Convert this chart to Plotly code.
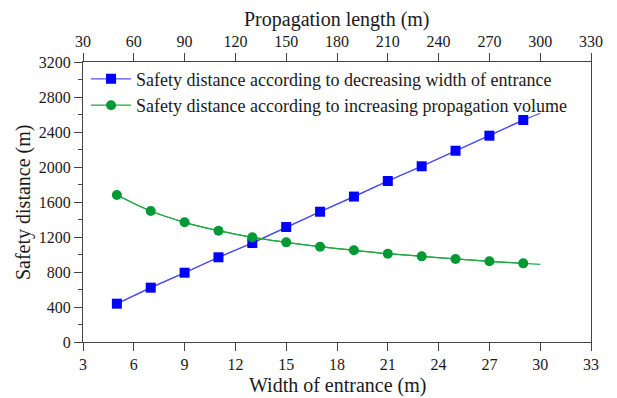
import plotly.graph_objects as go

# Data
width_x = [5, 7, 9, 11, 13, 15, 17, 19, 21, 23, 25, 27, 29]
safety_width = [438, 621, 792, 968, 1131, 1314, 1489, 1662, 1840, 2008, 2186, 2358, 2537]
safety_volume = [1680, 1497, 1368, 1272, 1196, 1139, 1089, 1048, 1009, 979, 949, 922, 899]

# fitted-curve extension to x = 30
fit_end_x = 30
fit_end_width = 2614
fit_end_volume = 888

x_title = "Width of entrance (m)"
x2_title = "Propagation length (m)"
y_title = "Safety distance (m)"

blue_line = "#5050ff"
blue_marker = "#0000ff"
green_line = "#22a844"
green_marker = "#009933"
font = "Times New Roman, Liberation Serif, serif"
ink = "#1a1a1a"

fig = go.Figure()

fig.add_trace(go.Scatter(x=width_x + [fit_end_x], y=safety_width + [fit_end_width],
                         mode="lines", line=dict(color=blue_line, width=1.2),
                         showlegend=False, hoverinfo="skip"))
fig.add_trace(go.Scatter(x=width_x + [fit_end_x], y=safety_volume + [fit_end_volume],
                         mode="lines", line=dict(color=green_line, width=1.2, shape="spline"),
                         showlegend=False, hoverinfo="skip"))
fig.add_trace(go.Scatter(x=width_x, y=safety_width, mode="markers+lines",
                         name="Safety distance according to decreasing width of entrance",
                         line=dict(color=blue_line, width=1.2),
                         marker=dict(symbol="square", size=10, color=blue_marker)))
fig.add_trace(go.Scatter(x=width_x, y=safety_volume, mode="markers+lines",
                         name="Safety distance according to increasing propagation volume",
                         line=dict(color=green_line, width=1.2, shape="spline"),
                         marker=dict(symbol="circle", size=10, color=green_marker)))
fig.add_trace(go.Scatter(x=[30, 330], y=[None, None], xaxis="x2", mode="markers",
                         showlegend=False, hoverinfo="skip"))

axis_common = dict(showgrid=False, zeroline=False, showline=True, linecolor="#444",
                   linewidth=1.2, ticks="outside", ticklen=8, tickcolor="#444",
                   tickfont=dict(size=16, family=font, color=ink), automargin=False)

# The page body adds an 8px offset, so the figure is sized to the visible area.
fig.update_layout(
    width=609, height=390,
    margin=dict(l=75, r=26, t=54, b=56),
    paper_bgcolor="white", plot_bgcolor="white",
    font=dict(family=font, color=ink, size=14),
    xaxis=dict(range=[3, 33], tick0=3, dtick=3, **axis_common),
    xaxis2=dict(range=[30, 330], tick0=30, dtick=30, overlaying="x", side="top", anchor="y",
                **axis_common),
    yaxis=dict(range=[0, 3200], tick0=0, dtick=400, mirror=True, **axis_common,
               minor=dict(dtick=200, ticks="outside", ticklen=4, tickcolor="#444")),
    legend=dict(x=0.006, y=1.005, xanchor="left", yanchor="top",
                bgcolor="rgba(0,0,0,0)", font=dict(size=18, family=font, color=ink),
                tracegroupgap=0, itemwidth=40),
    annotations=[
        dict(text=x_title, xref="paper", yref="paper", x=0.5, y=-0.155,
             xanchor="center", yanchor="middle", showarrow=False, borderpad=0,
             font=dict(size=20, family=font, color=ink)),
        dict(text=x2_title, xref="paper", yref="paper", x=0.5, y=1.152,
             xanchor="center", yanchor="middle", showarrow=False, borderpad=0,
             font=dict(size=20, family=font, color=ink)),
        dict(text=y_title, xref="paper", yref="paper", x=-0.118, y=0.5,
             xanchor="center", yanchor="middle", showarrow=False, textangle=-90,
             font=dict(size=20, family=font, color=ink)),
    ],
)

fig.write_html("out.html")
